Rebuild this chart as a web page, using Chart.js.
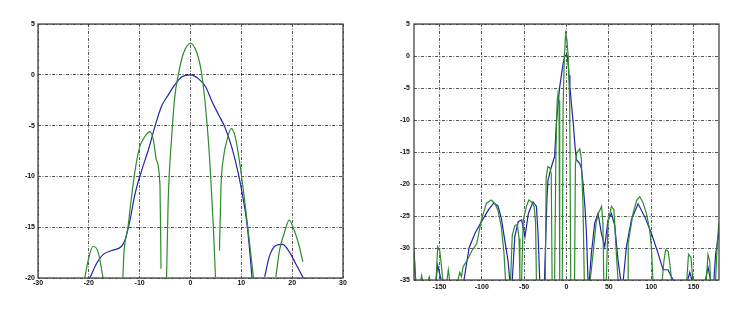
<!DOCTYPE html>
<html><head><meta charset="utf-8">
<script src="https://cdn.jsdelivr.net/npm/chart.js@4.4.1/dist/chart.umd.min.js"></script>
<style>
html,body{margin:0;padding:0;background:#fff;width:750px;height:317px;overflow:hidden}
canvas{position:absolute;top:0}
#c1{left:0}
#c2{left:375px}
</style></head><body>
<canvas id="c1" width="375" height="317"></canvas>
<canvas id="c2" width="375" height="317"></canvas>
<script>
// ---------- data (null = gap between lobes) ----------
const leftXTicks = [-30, -20, -10, 0, 10, 20, 30];
const leftYTicks = [-20, -15, -10, -5, 0, 5];
const rightXTicks = [-150, -100, -50, 0, 50, 100, 150];
const rightYTicks = [-35, -30, -25, -20, -15, -10, -5, 0, 5];

const leftBlue = [
  [-19.8,-20],[-18.5,-18.6],[-17.2,-17.7],[-15.5,-17.3],[-13.6,-16.9],[-12.9,-16.3],[-11.9,-14.3],
  [-10.9,-11.7],[-9.6,-9.4],[-8.3,-7.4],[-7,-5.1],[-5.7,-3.1],[-4.4,-2.0],[-3.1,-1.0],[-1.7,-0.2],
  [0,0],[1.6,-0.4],[3.0,-1.2],[4.2,-2.6],[5.5,-3.9],[6.8,-5.2],[8.1,-7.1],[9.4,-9.7],[10.4,-12.3],
  [11.1,-14.6],[11.7,-17.6],[12.1,-20], null,
  [14.6,-19.9],[15.5,-17.9],[16.8,-16.8],[18.1,-16.7],[19.4,-17.4],[20.7,-18.6],[22.2,-20]
];
const leftGreen = [
  [-20.8,-20],[-20.1,-18.2],[-19.2,-16.9],[-18.2,-17.4],[-17.2,-20], null,
  [-13.3,-19.9],[-13.1,-17.6],[-12.3,-15],[-11.6,-12],[-10.9,-9.4],[-10,-7.1],[-9,-6.1],[-8,-5.6],
  [-7.3,-6.4],[-6.7,-8.4],[-6,-11],[-5.8,-19.1], null,
  [-4.7,-19.9],[-4.4,-12.6],[-3.7,-6.1],[-3.1,-2.2],[-2.4,0],[-1.4,2.1],[0,3.1],[1.3,2.1],[2.2,0.1],
  [3.2,-4.5],[3.9,-9.4],[4.5,-15],[4.9,-19.9], null,
  [5.7,-17.3],[6.0,-11],[6.5,-8.1],[7.2,-6.4],[8.0,-5.3],[8.8,-6.1],[9.8,-9.1],[10.8,-13],[11.7,-16.9],[12.4,-20], null,
  [16.8,-19.9],[17.5,-17.3],[18.5,-15.5],[19.4,-14.3],[20.4,-15.3],[21.4,-16.9],[22.1,-18.4]
];

const rightBlue = [
  [-180,-30.5],[-178,-35], null,
  [-154,-35],[-152,-32.7],[-148,-35], null,
  [-121,-35],[-115,-30],[-108,-27.7],[-100,-25.8],[-92,-24],[-86,-23],[-81,-23.4],[-77,-25.3],[-72,-29.5],[-69,-32],[-67,-35], null,
  [-64,-35],[-61,-28.2],[-57,-25.9],[-53,-25.6],[-49,-28.2],[-45,-24.6],[-39.5,-22.8],[-35.5,-23.5],[-33.6,-27.7],[-31.6,-35], null,
  [-26,-35],[-23,-22],[-21.8,-19.4],[-17.8,-17.3],[-14,-15.7],[-12,-10.5],[-10,-7.5],[-8,-4.8],[-6,-3],[-4,-1.2],
  [-2,0],[0,0.2],[1,0],[3,-3],[4,-4.8],[6,-7.8],[8,-10.5],[10,-14],[11.7,-16.2],[15.6,-16.8],[17.5,-17.5],
  [19.5,-19.9],[22,-24],[23.5,-27.7],[25.4,-35], null,
  [27,-35],[29.4,-30.8],[33.3,-26.1],[37.2,-24.6],[41.2,-27.7],[45.1,-29.8],[49,-25.6],[53,-24.6],[56.9,-26.5],[60.8,-31.9],[64,-35], null,
  [67,-35],[70.7,-29.8],[76.6,-25.6],[84.5,-23.1],[92.3,-25.1],[100.2,-27.7],[108,-30.8],[114,-33.4],[119.8,-33.4],[123.8,-34.5],[126,-35], null,
  [143,-35],[145.5,-33.8],[148,-35], null,
  [164,-35],[167,-33],[170,-35], null,
  [174,-35],[176,-31],[180,-27.5]
];
const rightGreen = [
  [-180,-30],[-178.5,-35], null,
  [-172,-35],[-171,-34.3],[-170,-35], null,
  [-163,-35],[-162,-34.5],[-161,-35], null,
  [-154,-35],[-152,-29.8],[-149.5,-30.5],[-147.5,-32.9],[-146,-35], null,
  [-141,-35],[-139.5,-33.4],[-138,-35], null,
  [-128,-35],[-126,-33.8],[-124,-34.5],[-122,-32.9],[-118,-32.1],[-112,-30.5],[-106,-29.3],[-100.4,-25.6],
  [-94.5,-23],[-88.7,-22.5],[-84.7,-23],[-80.9,-24.1],[-76.9,-26.7],[-73.8,-30.8],[-72,-35], null,
  [-66,-35],[-64,-28],[-61,-26.5],[-58,-26.3],[-56,-28.5],[-55,-35], null,
  [-53,-35],[-51,-25.6],[-47.3,-23.5],[-44.5,-22.5],[-41.4,-22.8],[-38.2,-23.5],[-36.5,-26],[-35.5,-35], null,
  [-25,-35],[-24,-19],[-22,-17.3],[-19.5,-17.5],[-18,-18.5],[-17,-35], null,
  [-14,-35],[-12.5,-15],[-11,-7],[-10,-5.8],[-8.8,-7],[-8,-35], null,
  [-5,-35],[-4,-8],[-2.5,0],[-1,3.5],[0.5,2.5],[2,0],[3.8,-7.4],[5,-35], null,
  [9.5,-35],[10.5,-17],[12,-15.2],[15.6,-14.5],[17.5,-16],[19.5,-23.5],[21,-35], null,
  [28,-35],[31.4,-30.8],[35,-26],[38,-24.5],[41.4,-23.5],[43,-26],[44,-35], null,
  [47,-35],[49,-26],[53,-23.5],[56,-24],[58.8,-30.8],[60.8,-35], null,
  [72.6,-35],[72.8,-29.3],[78.5,-24.6],[83,-22.5],[86.4,-22],[90,-22.8],[94.3,-24.6],[98.2,-27.2],[100.2,-29.8],[102,-35], null,
  [113,-35],[115,-32],[117,-30.3],[120,-30.5],[122,-32.5],[124,-35], null,
  [142,-35],[144,-31],[147,-31.5],[149,-35], null,
  [165,-35],[167,-31],[169,-32],[170,-35], null,
  [176,-35],[178,-29],[180,-26]
];

// ---------- helpers ----------
function toPoints(arr) {
  const out = []; let lastX = 0;
  for (const p of arr) {
    if (p === null) { out.push({x: lastX, y: null}); }
    else { out.push({x: p[0], y: p[1]}); lastX = p[0]; }
  }
  return out;
}
const BLUE = 'rgb(35,35,175)';
const GREEN = 'rgb(45,140,45)';
const boxPlugin = {
  id: 'box',
  afterDraw(chart) {
    const a = chart.chartArea, ctx = chart.ctx;
    ctx.save();
    ctx.strokeStyle = '#444'; ctx.lineWidth = 1.3; ctx.setLineDash([]);
    ctx.strokeRect(a.left, a.top, a.right - a.left, a.bottom - a.top);
    ctx.restore();
  }
};
const tickFont = {family: "'Liberation Sans', Arial, sans-serif", size: 7, weight: 'bold'};

function makeChart(id, blue, green, xt, yt, yW, xH, padR, xPad, yPad, smooth) {
  const ds = (data, color) => ({
    data: toPoints(data), borderColor: color, borderWidth: 1.2, pointRadius: 0,
    spanGaps: false, fill: false,
    cubicInterpolationMode: smooth ? 'monotone' : 'default', tension: 0
  });
  return new Chart(document.getElementById(id), {
    type: 'line',
    data: { datasets: [ds(green, GREEN), ds(blue, BLUE)] },
    options: {
      responsive: false, animation: false, parsing: true,
      layout: { padding: { top: 24, right: padR, left: 0, bottom: 0 } },
      plugins: { legend: { display: false }, tooltip: { enabled: false } },
      scales: {
        x: {
          type: 'linear', min: xt.min, max: xt.max,
          afterBuildTicks: s => { s.ticks = xt.ticks.map(v => ({value: v})); },
          afterFit: s => { s.height = xH; },
          grid: { color: '#2a2a2a', lineWidth: 0.8, drawTicks: false },
          border: { display: false, dash: [3, 1.5, 1, 1.5] },
          ticks: { font: tickFont, color: '#111', padding: xPad, maxRotation: 0, autoSkip: false }
        },
        y: {
          type: 'linear', min: yt.min, max: yt.max,
          afterBuildTicks: s => { s.ticks = yt.ticks.map(v => ({value: v})); },
          afterFit: s => { s.width = yW; },
          grid: { color: '#2a2a2a', lineWidth: 0.8, drawTicks: false },
          border: { display: false, dash: [3, 1.5, 1, 1.5] },
          ticks: { font: tickFont, color: '#111', padding: yPad, autoSkip: false }
        }
      }
    },
    plugins: [boxPlugin]
  });
}

makeChart('c1', leftBlue, leftGreen,
  {min: -30, max: 30, ticks: leftXTicks}, {min: -20, max: 5, ticks: leftYTicks},
  38, 39, 32, 1, 3, true);
makeChart('c2', rightBlue, rightGreen,
  {min: -180, max: 180, ticks: rightXTicks}, {min: -35, max: 5, ticks: rightYTicks},
  39, 37, 31, 3, 4, false);
</script>
</body></html>
